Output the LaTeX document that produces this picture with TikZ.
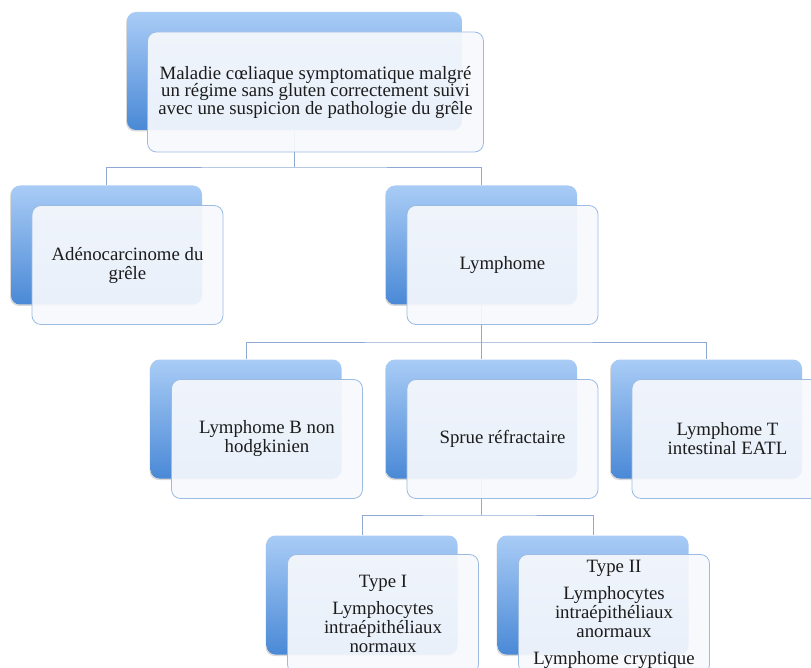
\documentclass[tikz,border=0pt]{standalone}
\usepackage{fontspec}
\setmainfont{Liberation Serif}
\usetikzlibrary{shadows}
\definecolor{boxtop}{HTML}{A9CCF6}
\definecolor{boxbot}{HTML}{4A89D6}
\definecolor{boxline}{HTML}{9CBBE3}
\definecolor{boxfill}{HTML}{F7F9FD}
\definecolor{wirecol}{HTML}{8FAAD2}
\definecolor{ink}{HTML}{1C1C1C}
\begin{document}
\begin{tikzpicture}[x=1pt,y=-1pt,
  backbox/.style={rounded corners=9pt,top color=boxtop,bottom color=boxbot,
    minimum width=191pt,minimum height=119pt,inner sep=0pt,
    drop shadow={shadow xshift=-1pt,shadow yshift=-1.5pt,opacity=.3}},
  frontbox/.style={rounded corners=9pt,draw=boxline,line width=.8pt,
    fill=boxfill,fill opacity=.92,text opacity=1,text=ink,
    minimum width=191pt,minimum height=119pt,inner sep=0pt,align=center,
    font=\fontsize{18.8}{19}\selectfont},
  wire/.style={draw=wirecol,line width=.8pt}]
  \clip (0,0) rectangle (811,668);
  % back boxes
  \node[backbox,minimum width=335pt,minimum height=118pt] (b-top) at (294.5,71) {};
  \node[backbox] (b-adeno) at (106.5,245) {};
  \node[backbox] (b-lymph) at (481.5,245) {};
  \node[backbox] (b-lb) at (246,419) {};
  \node[backbox] (b-sprue) at (481.5,419) {};
  \node[backbox] (b-lt) at (706.5,419) {};
  \node[backbox] (b-t1) at (362,595) {};
  \node[backbox] (b-t2) at (593,595) {};
  % junctions
  \coordinate (j1) at (294.5,167);
  \coordinate (j2) at (481.5,342);
  \coordinate (j3) at (481.5,515);
  % connectors
  \draw[wire] (b-top.south) -- (j1);
  \draw[wire] (b-adeno.north) |- (j1) -| (b-lymph.north);
  \draw[wire] (b-lymph.south) -- (j2);
  \draw[wire] (b-lb.north) |- (j2) -| (b-lt.north);
  \draw[wire] (j2) -- (b-sprue.north);
  \draw[wire] (b-sprue.south) -- (j3);
  \draw[wire] (b-t1.north) |- (j3) -| (b-t2.north);
  % front boxes with text
  \node[frontbox,minimum width=336pt,minimum height=120pt,
    font=\fontsize{18.8}{17.5}\selectfont] (f-top) at ([shift={(21,21)}]b-top.center)
    {Maladie cœliaque symptomatique malgré\\un régime sans gluten correctement suivi\\avec une suspicion de pathologie du grêle};
  \node[frontbox] (f-adeno) at ([shift={(21,20)}]b-adeno.center) {Adénocarcinome du\\grêle};
  \node[frontbox] (f-lymph) at ([shift={(21,20)}]b-lymph.center) {Lymphome};
  \node[frontbox] (f-lb) at ([shift={(21,20)}]b-lb.center) {Lymphome B non\\hodgkinien};
  \node[frontbox] (f-sprue) at ([shift={(21,20)}]b-sprue.center) {Sprue réfractaire};
  \node[frontbox] (f-lt) at ([shift={(21,20)}]b-lt.center) {Lymphome T\\intestinal EATL};
  \node[frontbox] (f-t1) at ([shift={(21,19)}]b-t1.center)
    {Type I\\[8pt]Lymphocytes\\intraépithéliaux\\normaux};
  \node[frontbox] (f-t2) at ([shift={(21,19)}]b-t2.center)
    {Type II\\[8pt]Lymphocytes\\intraépithéliaux\\anormaux\\[8pt]Lymphome cryptique};
\end{tikzpicture}
\end{document}
